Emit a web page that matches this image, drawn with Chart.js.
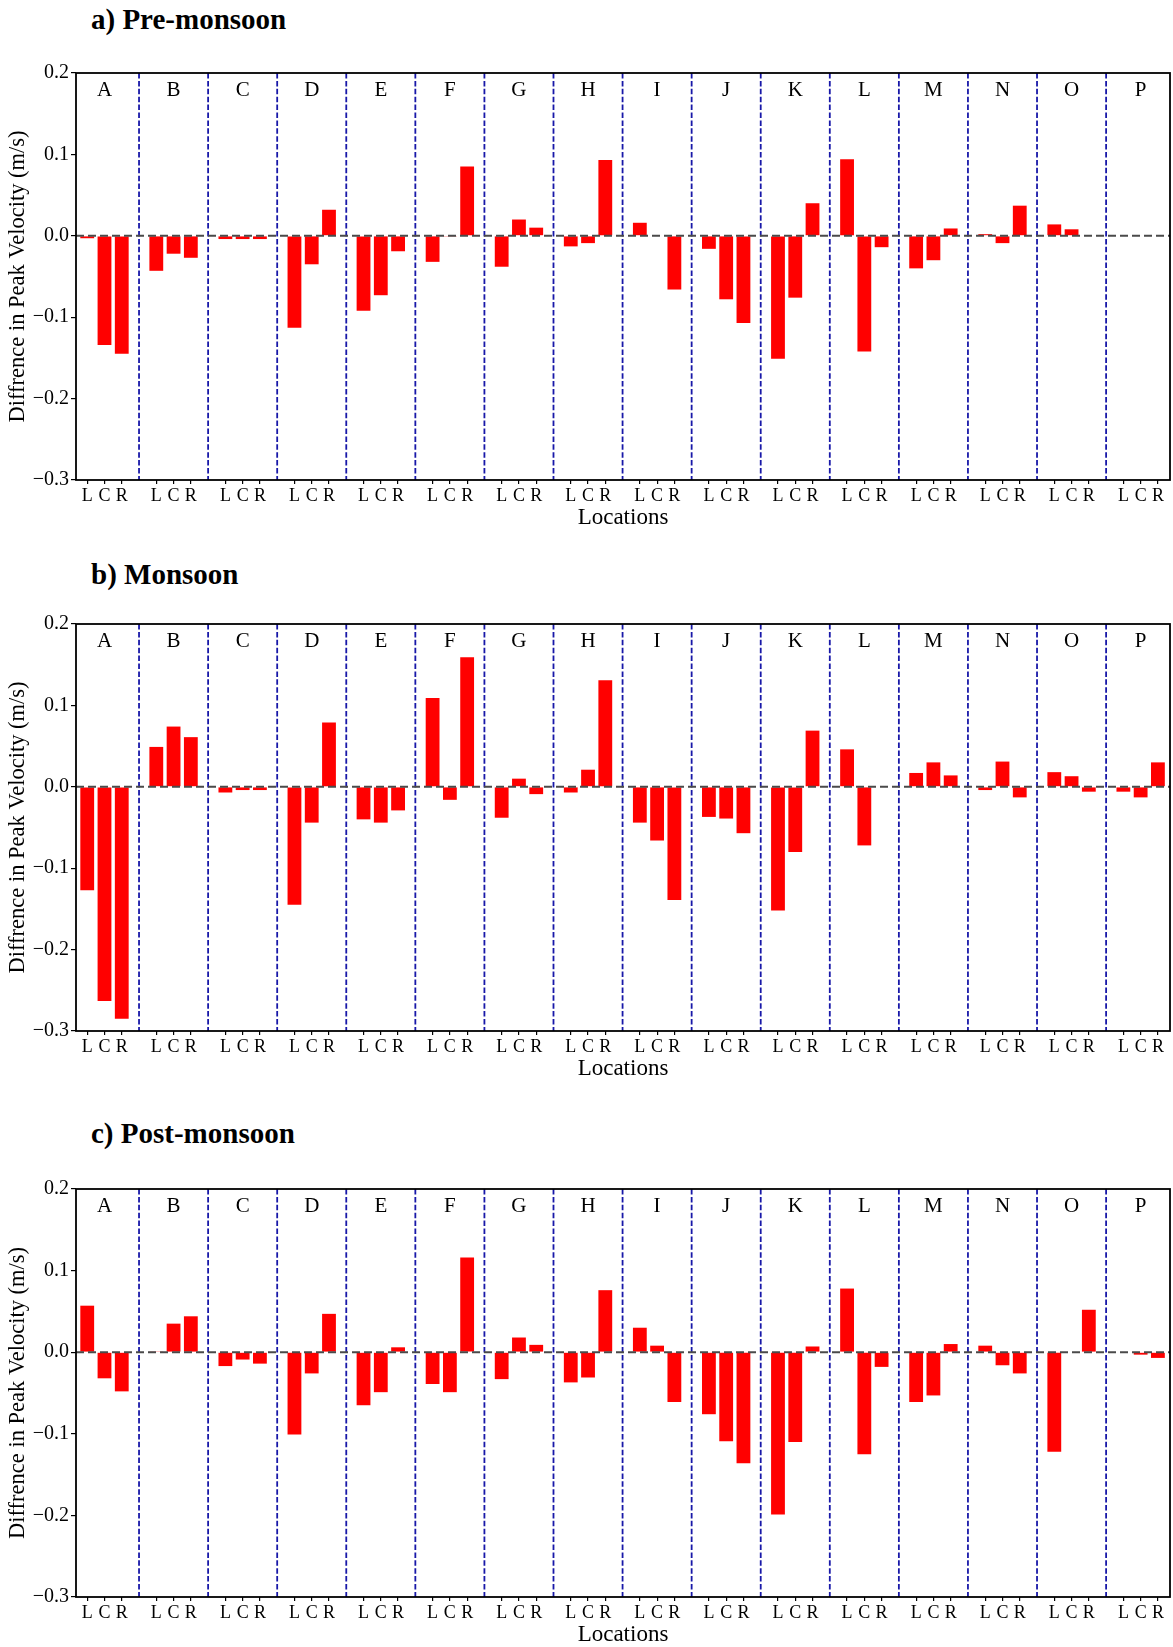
<!DOCTYPE html>
<html>
<head>
<meta charset="utf-8">
<script src="https://cdn.jsdelivr.net/npm/chart.js@4.4.1/dist/chart.umd.min.js"></script>
<style>
  html, body { margin: 0; padding: 0; background: #fff; overflow: hidden; width: 1173px; height: 1647px; }
  .panel-title { position: absolute; left: 91px; font: bold 29px 'Liberation Serif', 'Times New Roman', serif; line-height: 28px; white-space: nowrap; color: #000; }
  canvas { position: absolute; left: 0; }
</style>
</head>
<body>
<div class="panel-title" style="top:5px">a) Pre-monsoon</div>
<div class="panel-title" style="top:560px">b) Monsoon</div>
<div class="panel-title" style="top:1119px">c) Post-monsoon</div>
<canvas id="pre" width="1173" height="477" style="top:59px"></canvas>
<canvas id="mon" width="1173" height="477" style="top:610px"></canvas>
<canvas id="post" width="1173" height="478" style="top:1175px"></canvas>
<script>
// Cross-section locations and the three measuring points in each
const LOCATIONS = ['A','B','C','D','E','F','G','H','I','J','K','L','M','N','O','P'];
const SIDES = ['L','C','R'];
const Y_TICKS = [-0.3, -0.2, -0.1, 0.0, 0.1, 0.2];

// Difference in peak velocity (m/s), one value per location for each side
const PRE_L  = [-0.003,-0.043,-0.004,-0.113,-0.092,-0.032,-0.038,-0.013, 0.016,-0.016,-0.151, 0.094,-0.040, 0.002, 0.014, 0.000];
const PRE_C  = [-0.134,-0.022,-0.004,-0.035,-0.073,-0.001, 0.020,-0.009, 0.000,-0.078,-0.076,-0.142,-0.030,-0.009, 0.008, 0.000];
const PRE_R  = [-0.145,-0.027,-0.004, 0.032,-0.019, 0.085, 0.010, 0.093,-0.066,-0.107, 0.040,-0.014, 0.009, 0.037, 0.000, 0.000];

const MON_L  = [-0.127, 0.049,-0.007,-0.145,-0.040, 0.109,-0.038,-0.007,-0.044,-0.037,-0.152, 0.046, 0.017,-0.004, 0.018,-0.006];
const MON_C  = [-0.263, 0.074,-0.004,-0.044,-0.044,-0.016, 0.010, 0.021,-0.066,-0.039,-0.080,-0.072, 0.030, 0.031, 0.013,-0.013];
const MON_R  = [-0.285, 0.061,-0.004, 0.079,-0.029, 0.159,-0.009, 0.131,-0.139,-0.057, 0.069, 0.000, 0.014,-0.013,-0.006, 0.030];

const POST_L = [ 0.057, 0.001,-0.017,-0.101,-0.065,-0.039,-0.033,-0.037, 0.030,-0.076,-0.199, 0.078,-0.061, 0.008,-0.122, 0.000];
const POST_C = [-0.032, 0.035,-0.009,-0.026,-0.049,-0.049, 0.018,-0.031, 0.008,-0.109,-0.110,-0.125,-0.053,-0.016, 0.000,-0.003];
const POST_R = [-0.048, 0.044,-0.014, 0.047, 0.006, 0.116, 0.009, 0.076,-0.061,-0.136, 0.007,-0.018, 0.010,-0.026, 0.052,-0.007];

const FONT = "'Liberation Serif', 'Times New Roman', serif";
Chart.defaults.font.family = FONT;
Chart.defaults.color = '#000';

// Each location occupies four slots on the x axis: L, C, R and a spacer
const slot = (g, k) => 4 * g + k;
const tickPositions = LOCATIONS.flatMap((_, g) => SIDES.map((_, k) => slot(g, k)));

function toPoints(left, centre, right) {
  const cols = [left, centre, right];
  return LOCATIONS.flatMap((_, g) => cols.map((col, k) => ({ x: slot(g, k), y: col[g] })));
}

// Location separators, location letters, zero line and the frame
const panelDecor = {
  id: 'panelDecor',
  beforeDatasetsDraw(chart) {
    const { ctx, chartArea: a, scales: { x } } = chart;
    ctx.save();
    ctx.strokeStyle = '#1818a8';
    ctx.lineWidth = 1.8;
    ctx.setLineDash([5.5, 2.4]);
    for (let g = 1; g < LOCATIONS.length; g++) {
      const px = x.getPixelForValue(slot(g, -1));
      ctx.beginPath();
      ctx.moveTo(px, a.top);
      ctx.lineTo(px, a.bottom);
      ctx.stroke();
    }
    ctx.setLineDash([]);
    ctx.fillStyle = '#000';
    ctx.font = '21px ' + FONT;
    ctx.textAlign = 'center';
    ctx.textBaseline = 'middle';
    LOCATIONS.forEach((name, g) => ctx.fillText(name, x.getPixelForValue(slot(g, 1)), a.top + 17));
    ctx.restore();
  },
  afterDatasetsDraw(chart) {
    const { ctx, chartArea: a, scales: { y } } = chart;
    ctx.save();
    const py = y.getPixelForValue(0);
    ctx.strokeStyle = '#4a4a4a';
    ctx.lineWidth = 2;
    ctx.setLineDash([8, 4]);
    ctx.beginPath();
    ctx.moveTo(a.left, py);
    ctx.lineTo(a.right, py);
    ctx.stroke();
    ctx.setLineDash([]);
    ctx.strokeStyle = '#000';
    ctx.lineWidth = 1.8;
    ctx.strokeRect(a.left, a.top, a.right - a.left, a.bottom - a.top);
    ctx.restore();
  }
};

function makePanel(id, left, centre, right) {
  new Chart(document.getElementById(id), {
    type: 'bar',
    data: {
      datasets: [{
        data: toPoints(left, centre, right),
        backgroundColor: '#ff0000',
        borderWidth: 0,
        barPercentage: 0.8,
        categoryPercentage: 1.0
      }]
    },
    options: {
      responsive: false,
      animation: false,
      devicePixelRatio: 1,
      layout: { padding: { top: 14, right: 3, bottom: 4, left: 0 } },
      plugins: { legend: { display: false }, tooltip: { enabled: false }, title: { display: false } },
      scales: {
        x: {
          type: 'linear',
          offset: false,
          min: -0.65,
          max: 62.7,
          afterBuildTicks: (scale) => { scale.ticks = tickPositions.map(v => ({ value: v })); },
          afterFit: (scale) => { scale.height = 52; },
          ticks: {
            autoSkip: false,
            maxRotation: 0,
            padding: 1,
            font: { size: 18 },
            callback: (v) => SIDES[v % 4]
          },
          grid: { offset: false, drawOnChartArea: false, drawTicks: true, tickLength: 4, color: '#000', lineWidth: 1.2 },
          border: { display: false },
          title: { display: true, text: 'Locations', font: { size: 23 }, padding: 0 }
        },
        y: {
          min: -0.3,
          max: 0.2,
          afterBuildTicks: (scale) => { scale.ticks = Y_TICKS.map(v => ({ value: v })); },
          afterFit: (scale) => { scale.width = 76; },
          ticks: {
            padding: 2,
            font: { size: 20 },
            callback: (v) => Math.abs(v) < 1e-9 ? '0.0' : (v < 0 ? '\u2212' : '') + Math.abs(v).toFixed(1)
          },
          grid: { drawOnChartArea: false, drawTicks: true, tickLength: 5, color: '#000', lineWidth: 1.2 },
          border: { display: false },
          title: { display: true, text: 'Diffrence in Peak Velocity (m/s)', font: { size: 22.5 }, padding: { top: 5, bottom: 0 } }
        }
      }
    },
    plugins: [panelDecor]
  });
}

makePanel('pre', PRE_L, PRE_C, PRE_R);
makePanel('mon', MON_L, MON_C, MON_R);
makePanel('post', POST_L, POST_C, POST_R);
</script>
</body>
</html>
